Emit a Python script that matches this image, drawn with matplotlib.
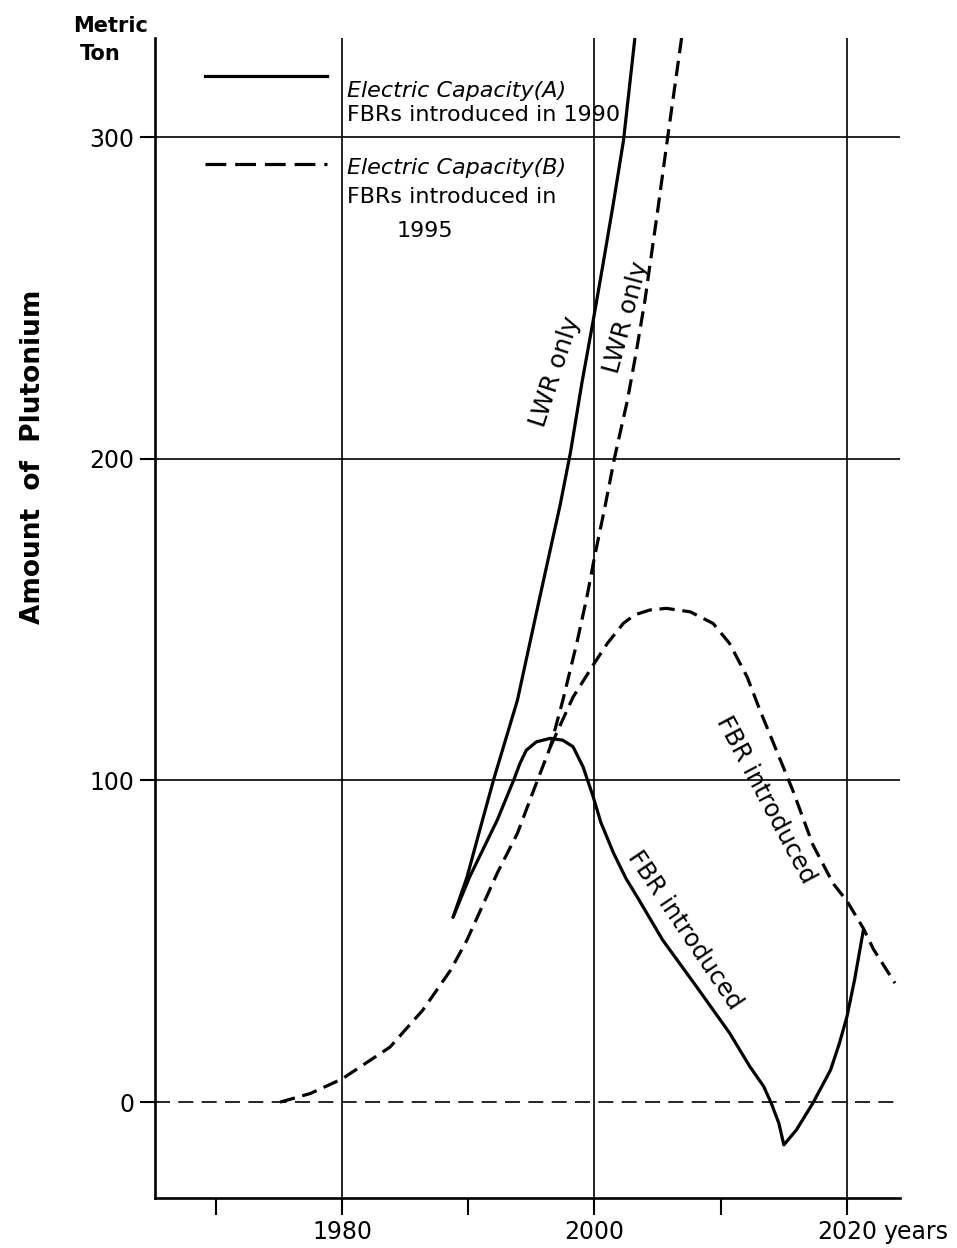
import matplotlib
import matplotlib.pyplot as plt
from matplotlib.lines import Line2D

matplotlib.use("Agg")

# --- data (years, metric tons of plutonium) ---
a_lwr_years = [1988.8, 1989.9, 1990.7, 1992.0, 1993.9, 1995.7, 1997.3,
               1998.1, 1999.0, 1999.9, 2000.7, 2001.5, 2002.3, 2003.2]
a_lwr_tons = [57.5, 69.9, 81.5, 100.1, 125.0, 157.5, 186.0,
              202.0, 223.5, 243.0, 261.0, 279.5, 299.0, 330.8]

a_fbr_years = [1988.8, 1990.1, 1992.3, 1993.6, 1994.1, 1994.6, 1995.4, 1996.5,
               1997.5, 1998.3, 1999.1, 1999.9, 2000.5, 2001.5, 2002.5, 2003.4,
               2005.4, 2008.1, 2010.7, 2012.3, 2013.4, 2014.0, 2014.6, 2015.0,
               2016.0, 2017.3, 2018.7, 2019.4, 2020.0, 2020.6, 2021.3]
a_fbr_tons = [57.5, 69.9, 87.7, 100.1, 105.3, 109.4, 112.0, 113.1,
              112.5, 110.5, 104.2, 94.9, 87.0, 77.5, 69.5, 63.7,
              50.4, 35.8, 21.5, 11.1, 4.9, -0.3, -6.5, -13.3,
              -8.6, -0.3, 10.0, 18.3, 26.6, 38.0, 53.5]

b_common_years = [1975.1, 1977.5, 1980.0, 1983.8, 1986.4, 1988.6, 1989.9,
                  1990.7, 1992.3, 1993.9, 1995.1, 1996.5]
b_common_tons = [0.0, 2.7, 7.2, 17.1, 28.6, 41.0, 50.4,
                 57.3, 71.2, 83.6, 96.1, 110.4]

b_lwr_years = [1997.5, 1998.6, 1999.4, 2000.0, 2000.8, 2001.6, 2002.6,
               2003.3, 2004.0, 2005.0, 2005.8, 2006.9]
b_lwr_tons = [125.0, 142.7, 157.0, 169.4, 184.5, 200.5, 218.0,
              233.0, 249.3, 277.0, 300.0, 330.8]

b_fbr_years = [1998.3, 2000.0, 2001.0, 2002.3, 2003.2, 2004.4, 2005.7, 2007.6,
               2009.4, 2010.7, 2012.1, 2013.1, 2014.5, 2015.7, 2017.3, 2018.9,
               2020.0, 2021.3, 2022.1, 2023.8]
b_fbr_tons = [125.9, 136.5, 142.5, 148.9, 151.5, 153.0, 153.5, 152.4,
              148.8, 142.6, 132.1, 121.9, 108.5, 97.0, 80.0, 68.0,
              62.5, 54.0, 47.5, 37.0]

x_ticks = [1970, 1980, 1990, 2000, 2010, 2020]
x_tick_labels = ["", "1980", "", "2000", "", "2020"]
y_ticks = [0, 100, 200, 300]
x_grid = [1980, 2000, 2020]
y_grid = [100, 200, 300]

CURVE_LW = 2.3
DASH = (0, (4.8, 2.4))

fig = plt.figure(figsize=(9.57, 12.48), dpi=100)
ax = fig.add_axes([0.16196, 0.04006, 0.77848, 0.92949])

for year in x_grid:
    ax.axvline(year, color="black", linewidth=1.2, zorder=1)
for tons in y_grid:
    ax.axhline(tons, color="black", linewidth=1.2, zorder=1)
ax.axhline(0, color="black", linewidth=1.2, linestyle=(0, (9, 5)), zorder=1)

solid_kw = dict(color="black", linewidth=CURVE_LW, solid_joinstyle="round",
                solid_capstyle="round", zorder=3)
dash_kw = dict(color="black", linewidth=CURVE_LW, linestyle=DASH,
               dash_capstyle="butt", dash_joinstyle="round", zorder=3)

ax.plot(a_lwr_years, a_lwr_tons, **solid_kw)
ax.plot(a_fbr_years, a_fbr_tons, **solid_kw)
ax.plot(b_common_years + b_lwr_years, b_common_tons + b_lwr_tons, **dash_kw)
ax.plot(b_common_years[-1:] + b_fbr_years, b_common_tons[-1:] + b_fbr_tons,
        **dash_kw)

label_kw = dict(ha="center", va="center", rotation_mode="anchor")
ax.text(1996.9, 227, "LWR only", rotation=72, fontsize=18, **label_kw)
ax.text(2002.5, 244, "LWR only", rotation=75, fontsize=18, **label_kw)
ax.text(2007.15, 53.5, "FBR introduced", rotation=-56, fontsize=17.5,
        **label_kw)
ax.text(2013.6, 94, "FBR introduced", rotation=-62, fontsize=17.5, **label_kw)

# legend drawn by hand to keep the original two-line layout
ax.add_line(Line2D([0.067, 0.231], [0.9672, 0.9672], transform=ax.transAxes,
                   color="black", linewidth=CURVE_LW))
ax.add_line(Line2D([0.067, 0.231], [0.8914, 0.8914], transform=ax.transAxes,
                   color="black", linewidth=CURVE_LW,
                   linestyle=(0, (6.5, 2.8))))
legend_kw = dict(transform=ax.transAxes, fontsize=16, va="center", ha="left")
ax.text(0.2577, 0.9543, "Electric Capacity(A)", style="italic", **legend_kw)
ax.text(0.2577, 0.9336, "FBRs introduced in 1990", **legend_kw)
ax.text(0.2577, 0.8879, "Electric Capacity(B)", style="italic", **legend_kw)
ax.text(0.2577, 0.8629, "FBRs introduced in", **legend_kw)
ax.text(0.3624, 0.8336, "1995", transform=ax.transAxes, fontsize=16,
        va="center", ha="center")

ax.set_xlim(1965.19, 2024.2)
ax.set_ylim(-29.8, 330.8)
ax.set_xticks(x_ticks)
ax.set_xticklabels(x_tick_labels)
ax.set_yticks(y_ticks)
ax.tick_params(axis="x", direction="out", length=12, width=1.5, pad=4,
               labelsize=17)
ax.tick_params(axis="y", direction="out", length=11, width=1.5, pad=4,
               labelsize=17)

for side in ("top", "right"):
    ax.spines[side].set_visible(False)
for side in ("left", "bottom"):
    ax.spines[side].set_linewidth(1.9)

fig.text(916 / 957, 1 - 1239 / 1248, "years", fontsize=17, ha="center",
         va="baseline")
fig.text(73 / 957, 1 - 32 / 1248, "Metric", fontsize=15, fontweight="bold",
         ha="left", va="baseline")
fig.text(80 / 957, 1 - 60 / 1248, "Ton", fontsize=15, fontweight="bold",
         ha="left", va="baseline")
fig.text(33 / 957, 1 - 457 / 1248, "Amount  of  Plutonium", fontsize=19,
         fontweight="bold", rotation=90, ha="center", va="center")

fig.savefig("out.png", dpi=100)
